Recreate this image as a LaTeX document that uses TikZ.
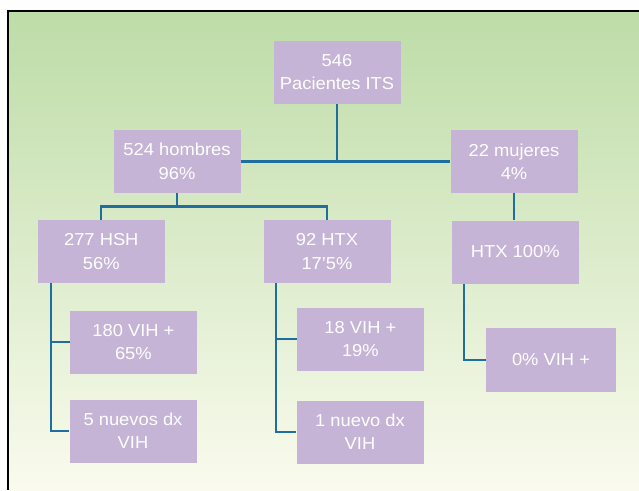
\documentclass[tikz,border=0pt]{standalone}
\usepackage{fontspec}
\newfontfamily\boxfont[FakeStretch=1.06]{Liberation Sans}
\usepackage{tikz}
\usetikzlibrary{positioning,calc}
\definecolor{bgtop}{RGB}{189,220,167}
\definecolor{bgbot}{RGB}{250,251,238}
\definecolor{boxlav}{RGB}{198,180,214}
\definecolor{linkblue}{RGB}{32,110,160}
\tikzset{
  box/.style  ={fill=boxlav,text=white,align=center,minimum width=127pt,minimum height=63pt,
                inner sep=0pt,font=\boxfont\fontsize{17.3}{23.4}\selectfont},
  link/.style ={draw=linkblue,line width=2.2pt},
  frame/.style={draw=black,line width=1.3pt},
}

\begin{document}
\begin{tikzpicture}[x=1pt,y=-1pt]
  \useasboundingbox (0,0) rectangle (639,490);
  \fill[top color=bgtop,bottom color=bgbot] (8,11) rectangle (639,490);
  \draw[frame] (639,11) -- (8,11) -- (8,490);

  \node[box] (root)    at (337,72)    {546\\Pacientes ITS};
  \node[box] (hombres) at (177,161.5) {524 hombres\\96\%};
  \node[box] (mujeres) at (514,161.5) {22 mujeres\\4\%};
  \node[box] (hsh)     at (101.3,251.5) {277 HSH\\56\%};
  \node[box] (htx)     at (327,251.5) {92 HTX\\17’5\%};
  \node[box] (htxm)    at (515.3,252) {HTX 100\%};
  \node[box] (vihhsh)  at (133.4,342) {180 VIH +\\65\%};
  \node[box] (dxhsh)   at (133,431)   {5 nuevos dx\\VIH};
  \node[box] (vihhtx)  at (360.4,339) {18 VIH +\\19\%};
  \node[box] (dxhtx)   at (360,432)   {1 nuevo dx\\VIH};
  \node[box,minimum width=130pt,minimum height=64.7pt] (vihm) at (551,360) {0\% VIH +};

  % first split
  \draw[link] (hombres.east) -- (mujeres.west);
  \draw[link] (root.south) -- (root.south |- hombres.east);
  % men
  \coordinate (split) at ($(hombres.south)!0.5!(hsh.north)$);
  \draw[link] (hombres.south) -- (hombres.south |- split);
  \draw[link] (hsh.north) |- (split) -| (htx.north);
  % women
  \draw[link] (mujeres.south) -- (mujeres.south |- htxm.north);
  % legs
  \coordinate (hshleg)  at ($(hsh.south west)+(13,0)$);
  \coordinate (htxleg)  at ($(htx.south west)+(12.3,0)$);
  \coordinate (htxmleg) at ($(htxm.south west)+(12.5,0)$);
  \draw[link] (hshleg) |- (vihhsh.west);
  \draw[link] (hshleg) |- (dxhsh.west);
  \draw[link] (htxleg) |- (vihhtx.west);
  \draw[link] (htxleg) |- (dxhtx.west);
  \draw[link] (htxmleg) |- (vihm.west);
\end{tikzpicture}
\end{document}
